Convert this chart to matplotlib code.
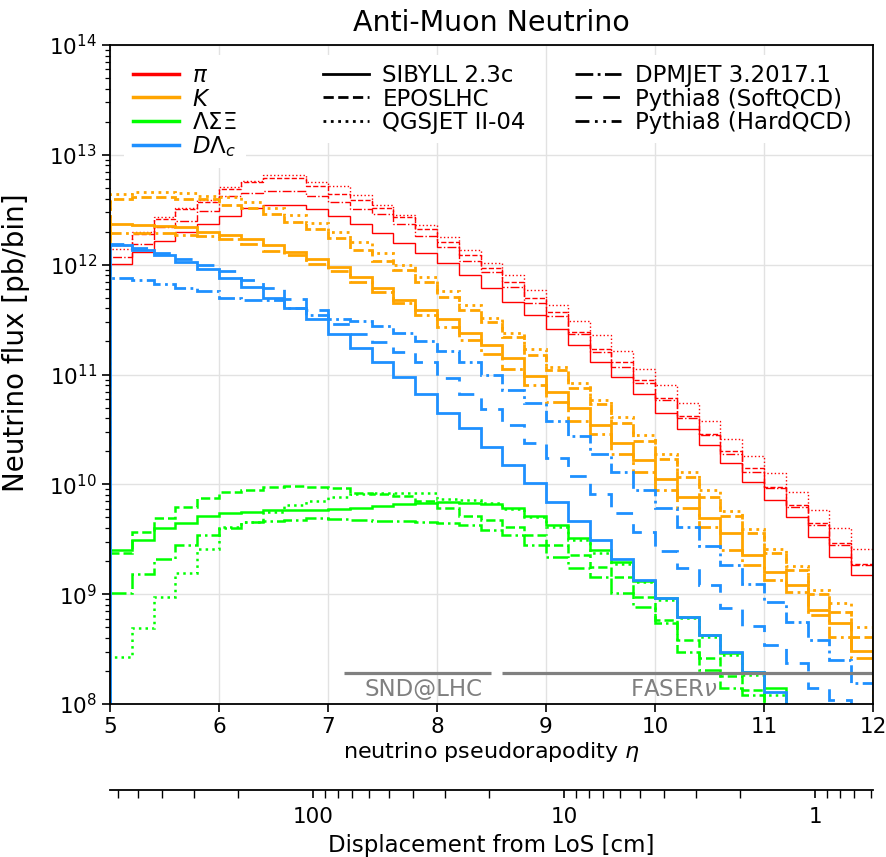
import numpy as np
import matplotlib
matplotlib.use("Agg")
import matplotlib.pyplot as plt
from matplotlib.lines import Line2D
from matplotlib.ticker import FixedLocator, NullFormatter, FixedFormatter

# eta binning: 35 bins of width 0.2 from 5 to 12
eta_edges = np.round(np.arange(5.0, 12.0001, 0.2), 2)

# pions
pi_sibyll = [1.02e12, 1.31e12, 1.65e12, 2.0e12, 2.35e12, 2.75e12, 3.3e12, 3.5e12, 3.5e12, 3.2e12, 2.8e12, 2.35e12,
             1.96e12, 1.59e12, 1.29e12, 1.04e12, 8.0e11, 6.1e11, 4.6e11, 3.5e11, 2.6e11, 1.84e11, 1.31e11, 9.4e10,
             6.6e10, 4.5e10, 3.2e10, 2.27e10, 1.55e10, 1.04e10, 7.2e9, 5.0e9, 3.3e9, 2.2e9, 1.5e9]
pi_epos = [1.5e12, 1.9e12, 2.6e12, 3.2e12, 3.7e12, 4.9e12, 5.6e12, 6.1e12, 6.1e12, 5.2e12, 4.4e12, 3.9e12,
           3.3e12, 2.7e12, 2.1e12, 1.6e12, 1.23e12, 9.4e11, 6.9e11, 5.0e11, 3.7e11, 2.45e11, 1.7e11, 1.29e11,
           8.9e10, 6.1e10, 4.2e10, 2.9e10, 2.0e10, 1.4e10, 9.4e9, 6.5e9, 4.4e9, 2.9e9, 1.9e9]
pi_qgsjet = [1.4e12, 2.0e12, 2.7e12, 3.3e12, 3.9e12, 5.1e12, 5.8e12, 6.5e12, 6.5e12, 5.7e12, 5.2e12, 4.3e12,
             3.5e12, 2.85e12, 2.3e12, 1.8e12, 1.37e12, 1.04e12, 8.0e11, 5.9e11, 4.25e11, 3.1e11, 2.27e11, 1.62e11,
             1.13e11, 8.0e10, 5.5e10, 3.8e10, 2.6e10, 1.8e10, 1.26e10, 8.5e9, 5.8e9, 4.0e9, 2.6e9]
pi_dpmjet = [1.18e12, 1.55e12, 2.2e12, 2.5e12, 3.05e12, 4.2e12, 4.5e12, 4.7e12, 4.7e12, 4.25e12, 3.75e12, 3.2e12,
             2.9e12, 2.35e12, 1.84e12, 1.46e12, 1.09e12, 8.5e11, 6.2e11, 4.5e11, 3.4e11, 2.35e11, 1.6e11, 1.18e11,
             8.3e10, 5.8e10, 4.0e10, 2.8e10, 1.9e10, 1.3e10, 9.2e9, 6.2e9, 4.25e9, 2.8e9, 1.84e9]

# kaons
k_sibyll = [2.35e12, 2.3e12, 2.25e12, 2.2e12, 2.0e12, 1.88e12, 1.72e12, 1.5e12, 1.31e12, 1.13e12, 9.6e11, 7.8e11,
            6.1e11, 4.8e11, 3.9e11, 3.2e11, 2.4e11, 1.84e11, 1.4e11, 9.6e10, 6.9e10, 5.0e10, 3.45e10, 2.4e10,
            1.65e10, 1.13e10, 7.6e9, 4.9e9, 3.6e9, 2.27e9, 1.6e9, 1.2e9, 7.2e8, 5.5e8, 3.05e8]
k_epos = [4.0e12, 4.1e12, 4.1e12, 4.0e12, 4.0e12, 3.5e12, 3.3e12, 2.9e12, 2.45e12, 2.1e12, 1.76e12, 1.37e12,
          1.09e12, 8.9e11, 6.9e11, 5.1e11, 3.9e11, 3.0e11, 2.2e11, 1.5e11, 1.1e11, 7.6e10, 5.35e10, 3.6e10,
          2.5e10, 1.7e10, 1.16e10, 7.6e9, 5.1e9, 3.6e9, 2.35e9, 1.65e9, 1.0e9, 6.9e8, 4.1e8]
k_qgsjet = [4.4e12, 4.6e12, 4.6e12, 4.5e12, 4.25e12, 4.1e12, 3.75e12, 3.3e12, 2.85e12, 2.4e12, 2.0e12, 1.6e12,
            1.29e12, 1.0e12, 7.65e11, 5.8e11, 4.3e11, 3.25e11, 2.4e11, 1.7e11, 1.18e11, 8.3e10, 5.8e10, 4.1e10,
            2.8e10, 1.9e10, 1.3e10, 8.9e9, 5.7e9, 3.9e9, 2.6e9, 1.8e9, 1.09e9, 8.3e8, 5.0e8]
k_dpmjet = [1.96e12, 1.96e12, 1.96e12, 1.88e12, 1.84e12, 1.7e12, 1.55e12, 1.34e12, 1.23e12, 1.02e12, 8.7e11, 6.9e11,
            5.6e11, 4.5e11, 3.5e11, 2.7e11, 2.04e11, 1.55e11, 1.13e11, 8.0e10, 5.6e10, 3.8e10, 2.85e10, 1.9e10,
            1.29e10, 8.9e9, 6.1e9, 4.1e9, 2.5e9, 1.84e9, 1.34e9, 1.04e9, 6.5e8, 4.1e8, 2.6e8]

# hyperons
hyp_sibyll = [2.5e9, 3.1e9, 4.0e9, 4.4e9, 5.1e9, 5.5e9, 5.6e9, 5.8e9, 5.8e9, 5.8e9, 5.95e9, 6.1e9,
              6.3e9, 6.6e9, 6.7e9, 6.9e9, 6.7e9, 6.6e9, 6.1e9, 5.2e9, 4.25e9, 3.25e9, 2.5e9, 1.96e9,
              1.31e9, 9.2e8, 6.2e8, 4.25e8, 2.9e8, 1.96e8, 1.4e8, 0, 0, 0, 0]
hyp_epos = [2.35e9, 3.7e9, 4.9e9, 6.2e9, 7.5e9, 8.5e9, 8.9e9, 9.4e9, 9.6e9, 9.4e9, 9.2e9, 8.3e9,
            8.1e9, 7.8e9, 7.0e9, 6.1e9, 5.2e9, 4.7e9, 4.1e9, 3.45e9, 2.8e9, 2.27e9, 1.76e9, 1.43e9,
            9.4e8, 5.8e8, 3.8e8, 2.6e8, 1.8e8, 1.34e8, 0, 0, 0, 0, 0]
hyp_qgsjet = [2.7e8, 4.9e8, 9.4e8, 1.55e9, 2.6e9, 4.1e9, 4.5e9, 5.6e9, 6.5e9, 7.0e9, 7.6e9, 8.1e9,
              8.3e9, 8.3e9, 8.3e9, 7.3e9, 7.2e9, 6.7e9, 5.95e9, 5.0e9, 4.1e9, 3.1e9, 2.35e9, 1.88e9,
              1.29e9, 8.9e8, 6.1e8, 4.1e8, 2.8e8, 1.84e8, 1.2e8, 0, 0, 0, 0]
hyp_dpmjet = [1.02e9, 1.52e9, 2.08e9, 2.8e9, 3.45e9, 4.0e9, 4.5e9, 4.6e9, 4.7e9, 4.9e9, 4.8e9, 4.7e9,
              4.6e9, 4.6e9, 4.5e9, 4.45e9, 4.25e9, 3.8e9, 3.45e9, 2.8e9, 2.2e9, 1.72e9, 1.43e9, 1.02e9,
              7.6e8, 5.5e8, 3.0e8, 2.04e8, 1.4e8, 1.2e8, 0, 0, 0, 0, 0]

# charm
charm_sibyll = [1.52e12, 1.37e12, 1.23e12, 1.06e12, 9.2e11, 7.6e11, 6.2e11, 5.0e11, 4.0e11, 3.2e11, 2.35e11, 1.76e11,
                1.29e11, 9.4e10, 6.6e10, 4.5e10, 3.25e10, 2.2e10, 1.5e10, 1.02e10, 6.9e9, 4.6e9, 3.1e9, 2.1e9,
                1.34e9, 9.2e8, 6.2e8, 4.25e8, 3.0e8, 1.96e8, 1.29e8, 0, 0, 0, 0]
charm_dpmjet = [7.6e11, 7.3e11, 6.6e11, 6.1e11, 5.7e11, 5.0e11, 4.8e11, 4.8e11, 4.0e11, 3.45e11, 3.2e11, 3.05e11,
                2.75e11, 2.4e11, 2.0e11, 1.65e11, 1.31e11, 1.0e11, 7.3e10, 5.5e10, 3.8e10, 2.75e10, 1.9e10, 1.29e10,
                8.9e9, 6.1e9, 4.1e9, 2.75e9, 1.84e9, 1.23e9, 8.5e8, 5.6e8, 3.8e8, 2.5e8, 1.55e8]
charm_pythia_soft = [1.55e12, 1.43e12, 1.29e12, 1.13e12, 1.0e12, 8.7e11, 7.3e11, 6.1e11, 4.9e11, 3.9e11, 2.9e11, 2.35e11,
                     1.96e11, 1.6e11, 1.29e11, 9.2e10, 6.7e10, 4.9e10, 3.5e10, 2.4e10, 1.72e10, 1.18e10, 8.1e9, 5.5e9,
                     3.7e9, 2.45e9, 1.72e9, 1.2e9, 7.5e8, 5.1e8, 3.45e8, 2.35e8, 1.4e8, 1.09e8, 0]

hadron_labels = [r'$\pi$', r'$K$', r'$\Lambda\Sigma\Xi$', r'$D\Lambda_c$']
hadron_colors = ['red', 'orange', 'lime', 'dodgerblue']
generator_labels = ['SIBYLL 2.3c', 'EPOSLHC', 'QGSJET II-04',
                    'DPMJET 3.2017.1', 'Pythia8 (SoftQCD)', 'Pythia8 (HardQCD)']
generator_styles = ['-', '--', ':', '-.', (0, (6, 4)), (0, (5, 2, 1, 2, 1, 2))]

# experiment coverage in eta
snd_range = (7.15, 8.5)
faser_range = (8.6, 12.0)
L_faser = 48000.0  # cm, distance from IP


def eta_to_disp(eta):
    return L_faser * np.tan(2 * np.arctan(np.exp(-np.asarray(eta))))


plt.rcParams['font.family'] = 'DejaVu Sans'
plt.rcParams['font.size'] = 15.5
plt.rcParams['mathtext.fontset'] = 'dejavusans'

fig = plt.figure(figsize=(8.87, 8.57), dpi=100)
ax = fig.add_axes([110 / 887, 1 - 704 / 857, 763 / 887, 659 / 857])

series = [
    (pi_sibyll, 0, 0, 1.0), (pi_epos, 0, 1, 1.0), (pi_qgsjet, 0, 2, 1.0), (pi_dpmjet, 0, 3, 1.0),
    (k_sibyll, 1, 0, 2.0), (k_epos, 1, 1, 2.0), (k_qgsjet, 1, 2, 2.0), (k_dpmjet, 1, 3, 2.0),
    (hyp_sibyll, 2, 0, 1.8), (hyp_epos, 2, 1, 1.8), (hyp_qgsjet, 2, 2, 1.8), (hyp_dpmjet, 2, 3, 1.8),
    (charm_sibyll, 3, 0, 2.0), (charm_dpmjet, 3, 3, 2.0), (charm_pythia_soft, 3, 4, 2.0),
]
for vals, ih, ig, lw in series:
    ax.stairs(vals, eta_edges, baseline=0, fill=False, color=hadron_colors[ih],
              linestyle=generator_styles[ig], linewidth=lw)

ax.set_yscale('log')
ax.set_xlim(5, 12)
ax.set_ylim(1e8, 1e14)
ax.grid(True, color='#e2e2e2', linewidth=1)
ax.set_axisbelow(True)
ax.tick_params(which='major', direction='out', length=6, width=1.2)
ax.tick_params(which='minor', direction='out', length=3.5, width=0.9)
for sp in ax.spines.values():
    sp.set_linewidth(1.3)
ax.set_xlabel(r'neutrino pseudorapodity $\eta$', fontsize=16, labelpad=2)
ax.set_ylabel('Neutrino flux [pb/bin]', fontsize=20)
ax.yaxis.set_label_coords(-0.105, 0.548)
ax.set_title('Anti-Muon Neutrino', fontsize=20.5, pad=10)

# experiment bands
band_y = 1.9e8
ax.plot(snd_range, [band_y, band_y], color='gray', lw=2.3, solid_capstyle='butt')
ax.plot(faser_range, [band_y, band_y], color='gray', lw=2.3, solid_capstyle='butt')
ax.text(np.mean(snd_range) + 0.05, 1.35e8, 'SND@LHC', color='gray', ha='center', va='center', fontsize=16.5)
ax.text(10.17, 1.35e8, r'FASER$\nu$', color='gray', ha='center', va='center', fontsize=16.5)

# legends
leg_kw = dict(loc='upper left', fontsize=16.5, labelspacing=0.02, handlelength=2.0,
              handletextpad=0.6, borderpad=0.4, frameon=True, facecolor='white',
              edgecolor='none', framealpha=1.0, borderaxespad=0)
h1 = [Line2D([], [], color=c, lw=2.5) for c in hadron_colors]
h2 = [Line2D([], [], color='k', lw=2, ls=s) for s in generator_styles[:3]]
h3 = [Line2D([], [], color='k', lw=2, ls=s) for s in generator_styles[3:]]
l1 = ax.legend(h1, hadron_labels, bbox_to_anchor=(0.018, 0.985), **leg_kw)
ax.add_artist(l1)
l2 = ax.legend(h2, generator_labels[:3], bbox_to_anchor=(0.267, 0.985), **leg_kw)
ax.add_artist(l2)
ax.legend(h3, generator_labels[3:], bbox_to_anchor=(0.598, 0.985), **leg_kw)

# displacement axis
ax2 = fig.add_axes([110 / 887, 1 - 790 / 857, 763 / 887, 1e-5])
ax2.patch.set_visible(False)
for s in ['top', 'left', 'right']:
    ax2.spines[s].set_visible(False)
ax2.spines['bottom'].set_linewidth(1.3)
ax2.set_yticks([])
ax2.set_xscale('log')
ax2.set_xlim(eta_to_disp(5.0), eta_to_disp(12.0))
ax2.xaxis.set_major_locator(FixedLocator([1, 10, 100]))
ax2.xaxis.set_major_formatter(FixedFormatter(['1', '10', '100']))
minor = [m * 10.0 ** e for e in range(-1, 3) for m in range(2, 10)]
ax2.xaxis.set_minor_locator(FixedLocator(minor))
ax2.xaxis.set_minor_formatter(NullFormatter())
ax2.tick_params(which='major', direction='out', length=6, width=1.2, pad=6)
ax2.tick_params(which='minor', direction='out', length=6, width=1.0)
ax2.set_xlabel('Displacement from LoS [cm]', fontsize=16.5, labelpad=5)

fig.savefig('out.png', dpi=100)
